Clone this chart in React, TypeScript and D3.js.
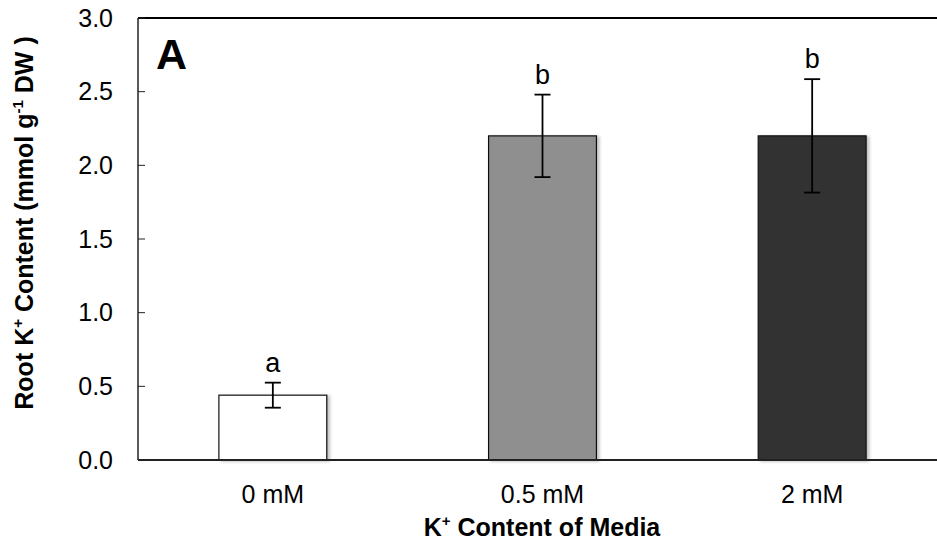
import React from "react";
import * as d3 from "d3";

// Root K+ content by K+ concentration of the growth medium
const categories = ["0 mM", "0.5 mM", "2 mM"];
const means = [0.44, 2.2, 2.2];
const errors = [0.085, 0.28, 0.385];
const letters = ["a", "b", "b"];
const fills = ["#ffffff", "#8f8f8f", "#333333"];
const yTicks = [0, 0.5, 1.0, 1.5, 2.0, 2.5, 3.0];

const W = 937;
const H = 554;
const left = 138;
const right = 947;
const top = 18;
const bottom = 460;
const FONT = "'Liberation Sans', Arial, sans-serif";

export default function App() {
  const x = d3.scaleBand<string>().domain(categories).range([left, right]).paddingInner(0.6).paddingOuter(0.3);
  const y = d3.scaleLinear().domain([0, 3]).range([bottom, top]);

  return (
    <svg
      width={W}
      height={H}
      viewBox={`0 0 ${W} ${H}`}
      style={{ position: "absolute", left: 0, top: 0, background: "#fff" }}
      fontFamily={FONT}
    >
      <defs>
        <filter id="barShadow" x="-10%" y="-10%" width="130%" height="120%">
          <feDropShadow dx="2.5" dy="1" stdDeviation="1.5" floodColor="#000" floodOpacity="0.25" />
        </filter>
      </defs>

      {/* bars */}
      {categories.map((c, i) => (
        <rect
          key={c}
          x={x(c)}
          y={y(means[i])}
          width={x.bandwidth()}
          height={y(0) - y(means[i])}
          fill={fills[i]}
          stroke="#111"
          strokeWidth={1.2}
          filter="url(#barShadow)"
        />
      ))}

      {/* error bars */}
      {categories.map((c, i) => {
        const cx = (x(c) as number) + x.bandwidth() / 2;
        const hi = y(means[i] + errors[i]);
        const lo = y(means[i] - errors[i]);
        return (
          <g key={c} stroke="#000" strokeWidth={1.8}>
            <line x1={cx} x2={cx} y1={hi} y2={lo} />
            <line x1={cx - 8} x2={cx + 8} y1={hi} y2={hi} />
            <line x1={cx - 8} x2={cx + 8} y1={lo} y2={lo} />
          </g>
        );
      })}

      {/* significance letters */}
      {categories.map((c, i) => (
        <text
          key={c}
          x={(x(c) as number) + x.bandwidth() / 2}
          y={y(means[i] + errors[i]) - 11}
          textAnchor="middle"
          fontSize={27}
          fill="#000"
        >
          {letters[i]}
        </text>
      ))}

      {/* frame: top border, left axis, baseline */}
      <line x1={left} x2={right} y1={top} y2={top} stroke="#000" strokeWidth={2} />
      <line x1={left} x2={left} y1={top} y2={bottom} stroke="#222" strokeWidth={1.5} />
      <line x1={left} x2={right} y1={bottom} y2={bottom} stroke="#222" strokeWidth={2} />

      {/* y ticks and labels */}
      {yTicks.map((t) => (
        <g key={t}>
          <line x1={left} x2={left + 7} y1={y(t)} y2={y(t)} stroke="#222" strokeWidth={1} />
          <text x={113} y={y(t)} dy="0.35em" textAnchor="end" fontSize={25} fill="#000">
            {d3.format(".1f")(t)}
          </text>
        </g>
      ))}

      {/* x category labels */}
      {categories.map((c) => (
        <text
          key={c}
          x={(x(c) as number) + x.bandwidth() / 2}
          y={503}
          textAnchor="middle"
          fontSize={25}
          fill="#000"
        >
          {c}
        </text>
      ))}

      {/* axis titles */}
      <text x={542} y={536} textAnchor="middle" fontSize={25} fontWeight="bold" fill="#000">
        K<tspan fontSize={15} dy={-10}>+</tspan>
        <tspan dy={10}> Content of Media</tspan>
      </text>
      <text
        transform={`translate(33, ${(top + bottom) / 2 - 16}) rotate(-90)`}
        textAnchor="middle"
        fontSize={25}
        fontWeight="bold"
        fill="#000"
      >
        Root K<tspan fontSize={15} dy={-10}>+</tspan>
        <tspan dy={10}> Content (mmol g</tspan>
        <tspan fontSize={15} dy={-10}>-1</tspan>
        <tspan dy={10}> DW )</tspan>
      </text>

      {/* panel label */}
      <text x={156} y={69} fontSize={43} fontWeight="bold" fill="#000">
        A
      </text>
    </svg>
  );
}
